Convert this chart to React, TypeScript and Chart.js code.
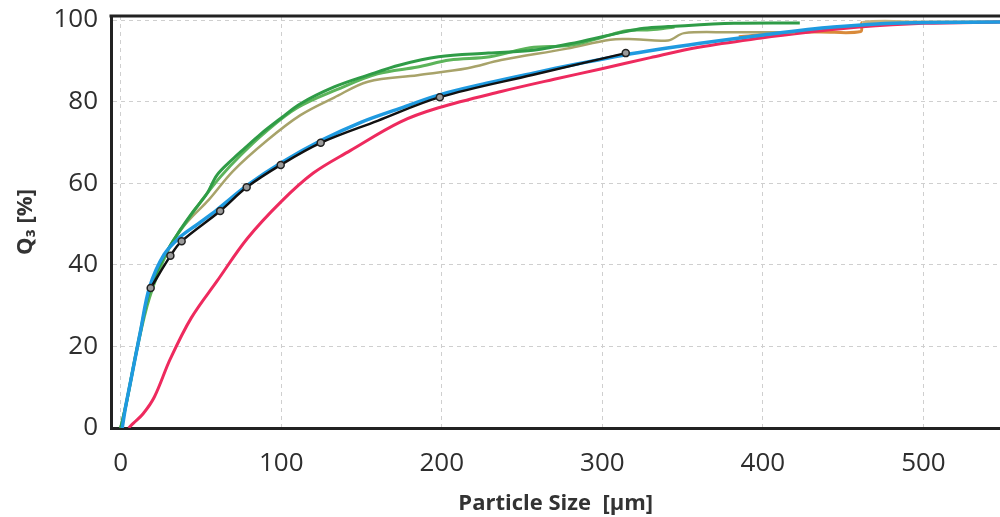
import React, { useEffect, useRef } from "react";
import { Chart, registerables } from "chart.js";

Chart.register(...registerables);

const xTicks = [0, 100, 200, 300, 400, 500];
const yTicks = [0, 20, 40, 60, 80, 100];

const redX = [5, 8, 14, 21, 31, 44, 60, 79, 100, 120, 143, 174, 198, 237, 270, 299, 330, 361, 399, 428, 460, 500, 548];
const redY = [0, 1.2, 3.5, 7.6, 17, 27, 36, 46.5, 55.5, 62.5, 68, 75, 78.5, 82.5, 85.5, 88, 90.8, 93.4, 95.6, 97, 98.3, 99.2, 99.5];

const blueX = [1, 3, 6, 12.5, 18, 27, 37, 48, 60, 79, 100, 125, 150, 175, 198, 228, 257, 285, 313, 361, 399, 444, 486, 548];
const blueY = [0, 5, 11, 24, 34.5, 42.5, 46.8, 50, 53.5, 59.5, 65, 70.5, 75, 78.5, 81.6, 84.5, 87, 89.3, 91.4, 94.3, 96.3, 98.3, 99.3, 99.5];

const blackX = [18.7, 31, 38, 62, 78.5, 99.7, 124.6, 160, 198.8, 257, 314.6];
const blackY = [34.3, 42.2, 45.8, 53.2, 59, 64.5, 69.9, 75.3, 81.1, 86.6, 91.9];
const markerX = [18.7, 31, 38, 62, 78.5, 99.7, 124.6, 198.8, 314.6];
const markerY = [34.3, 42.2, 45.8, 53.2, 59, 64.5, 69.9, 81.1, 91.9];

const green1X = [0, 3, 6, 12, 18, 27, 37, 45, 54, 60, 70, 77, 87, 100, 112, 133, 154, 174, 198, 229, 257, 285, 310, 326, 341, 382, 423];
const green1Y = [0, 5, 11, 23, 33.5, 42, 48.5, 53, 57.6, 62, 66, 68.5, 72, 76, 79.5, 83.6, 86.5, 89, 91, 91.9, 92.6, 94.6, 96.8, 98, 98.4, 99.2, 99.3];

const green2X = [0, 4, 10, 18, 30, 40, 50, 62, 75, 90, 110, 135, 160, 185, 205, 230, 255, 280, 300, 315, 330, 345];
const green2Y = [0, 7, 19, 32, 44, 50, 55.5, 61.5, 67, 72.5, 78.5, 83, 86.8, 88.5, 90.2, 91, 93.2, 93.8, 95.8, 97.4, 97.6, 98.3];

const oliveX = [37, 45, 55, 70, 91.5, 112, 133, 154, 185, 216, 237, 278, 305, 320, 341, 351, 380, 420];
const oliveY = [48.5, 52, 56, 63, 70.6, 76.7, 81, 84.9, 86.5, 88.2, 90.2, 93, 95.2, 95.3, 95, 96.8, 97, 97];

const orangeX = [385, 410, 435, 461, 462, 500, 548];
const orangeY = [95.9, 96.8, 97.1, 97.2, 99.4, 99.5, 99.6];

const pts = (xs: number[], ys: number[]) => xs.map((x, i) => ({ x, y: ys[i] }));

const FONT = "'Open Sans', 'Noto Sans', sans-serif";

export default function App() {
  const ref = useRef<HTMLCanvasElement | null>(null);
  useEffect(() => {
    document.body.style.margin = "0";
    const ctx = ref.current!.getContext("2d")!;
    const line = (data: any, color: string, width: number, order: number, extra: any = {}) => ({
      data,
      borderColor: color,
      backgroundColor: color,
      borderWidth: width,
      pointRadius: 0,
      showLine: true,
      tension: 0.35,
      fill: false,
      order,
      ...extra,
    });
    const topBorder = {
      id: "topBorder",
      afterDraw(chart: any) {
        const { ctx: c, chartArea } = chart;
        c.save();
        c.strokeStyle = "#222";
        c.lineWidth = 3;
        c.beginPath();
        c.moveTo(chartArea.left - 1.5, chartArea.top);
        c.lineTo(chartArea.right, chartArea.top);
        c.stroke();
        c.restore();
      },
    };
    const noPad = (s: any) => {
      s.paddingTop = 0;
      s.paddingBottom = 0;
      s.paddingLeft = 0;
      s.paddingRight = 0;
    };
    const chart = new Chart(ctx, {
      type: "scatter",
      data: {
        datasets: [
          line(pts(orangeX, orangeY), "#d98a3a", 3, 8, {
            segment: { borderColor: (s: any) => (s.p0DataIndex >= 4 ? "#c9b27a" : undefined) },
          }),
          line(pts(redX, redY), "#ee2a5e", 3, 7),
          line(pts(oliveX, oliveY), "#a8a36a", 2.5, 6),
          line(pts(green2X, green2Y), "#5cb45a", 3, 5),
          line(pts(green1X, green1Y), "#2f9c47", 3, 4),
          line(pts(blueX, blueY), "#1f9ae0", 3.5, 3),
          line(pts(blackX, blackY), "#111111", 2.5, 2),
          {
            data: pts(markerX, markerY),
            showLine: false,
            pointRadius: 3.5,
            pointBorderWidth: 1.5,
            pointBorderColor: "#222",
            pointBackgroundColor: "#9a9a9a",
            order: 1,
          },
        ],
      },
      options: {
        responsive: false,
        animation: false,
        events: [],
        layout: { padding: { top: 16, right: 0, left: 0, bottom: 0 } },
        plugins: { legend: { display: false }, tooltip: { enabled: false } },
        scales: {
          x: {
            type: "linear",
            min: -6,
            max: 548,
            afterBuildTicks: (s: any) => {
              s.ticks = xTicks.map((v) => ({ value: v }));
            },
            afterFit: (s: any) => {
              s.height = 89;
              noPad(s);
            },
            ticks: {
              includeBounds: false,
              color: "#2e2e2e",
              font: { family: FONT, size: 26, weight: "500" },
              padding: 20,
              maxRotation: 0,
            },
            grid: {
              color: "#cfcfcf",
              drawTicks: false,
              lineWidth: 1,
            },
            border: { display: true, color: "#222", width: 3, dash: [4, 4] },
            title: {
              display: true,
              text: "Particle Size  [μm]",
              color: "#333",
              font: { family: FONT, size: 22, weight: "bold" },
              padding: { top: 0, bottom: 0 },
            },
          },
          y: {
            type: "linear",
            min: 0,
            max: 101,
            afterBuildTicks: (s: any) => {
              s.ticks = yTicks.map((v) => ({ value: v }));
            },
            afterFit: (s: any) => {
              s.width = 111;
              noPad(s);
            },
            ticks: {
              includeBounds: false,
              color: "#2e2e2e",
              font: { family: FONT, size: 26, weight: "500" },
              padding: 13,
            },
            grid: {
              color: "#cfcfcf",
              drawTicks: false,
              lineWidth: 1,
            },
            border: { display: true, color: "#222", width: 3, dash: [4, 4] },
            title: {
              display: true,
              text: "Q₃ [%]",
              color: "#333",
              font: { family: FONT, size: 22, weight: "bold" },
              padding: { top: 13, bottom: 0 },
            },
          },
        },
      } as any,
      plugins: [topBorder],
    });
    return () => chart.destroy();
  }, []);
  return (
    <div style={{ position: "fixed", left: 0, top: 0, width: 1000, height: 517, background: "#fff", overflow: "hidden" }}>
      <canvas ref={ref} width={1006} height={517} style={{ display: "block" }} />
    </div>
  );
}
